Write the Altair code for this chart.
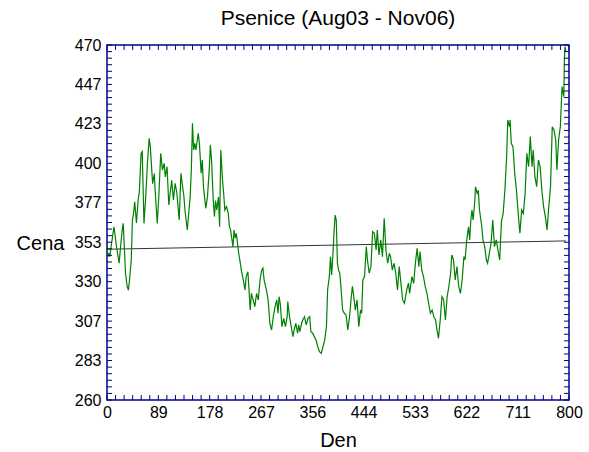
import altair as alt
import numpy as np
import pandas as pd

days = [0, 2, 4, 5, 6, 12, 14, 16, 21, 24, 27, 28, 30, 32, 35, 37, 39, 42, 44, 46, 48, 51, 54, 56, 59, 61,
        64, 67, 70, 73, 75, 79, 82, 83, 87, 90, 93, 96, 99, 101, 104, 107, 110, 112, 115, 118, 121, 125,
        128, 131, 133, 135, 137, 139, 144, 146, 148, 150, 152, 154, 158, 160, 163, 165, 167, 171, 174,
        177, 179, 181, 184, 186, 188, 190, 193, 195, 197, 200, 202, 204, 207, 210, 212, 214, 218, 220,
        222, 224, 228, 230, 233, 236, 239, 241, 244, 248, 250, 253, 256, 259, 262, 265, 268, 270, 272,
        276, 279, 282, 285, 288, 291, 294, 296, 298, 300, 303, 306, 309, 312, 313, 316, 319, 322, 324,
        327, 330, 332, 334, 337, 339, 342, 345, 348, 351, 353, 356, 359, 362, 365, 368, 371, 374, 377,
        380, 382, 385, 387, 389, 391, 393, 395, 397, 399, 401, 403, 405, 408, 411, 414, 417, 420, 423,
        425, 428, 430, 433, 436, 439, 441, 443, 446, 449, 451, 454, 457, 460, 463, 466, 468, 471, 474,
        477, 480, 483, 486, 489, 491, 494, 497, 500, 503, 506, 509, 512, 515, 519, 522, 524, 528, 531,
        534, 537, 540, 542, 545, 548, 551, 554, 557, 560, 563, 566, 569, 571, 574, 577, 580, 583, 586,
        589, 592, 595, 597, 600, 603, 606, 609, 612, 615, 618, 620, 623, 626, 628, 630, 632, 634, 637,
        638, 641, 643, 645, 649, 651, 654, 657, 659, 662, 665, 668, 671, 674, 677, 680, 683, 686, 689,
        692, 694, 697, 698, 700, 703, 706, 709, 712, 715, 718, 721, 724, 727, 730, 733, 736, 738, 741,
        744, 747, 750, 753, 756, 759, 762, 765, 768, 771, 774, 777, 779, 782, 785, 788, 791, 792, 793,
        795]

prices = [350.7, 344.8, 346.8, 344.8, 348.0, 362.5, 357.6, 351.7, 340.9, 352.7, 362.5, 364.5, 350.7,
          335.0, 327.0, 325.0, 331.0, 342.8, 366.5, 370.4, 377.3, 364.7, 378.3, 383.2, 405.9, 407.0,
          364.5, 380.0, 400.0, 414.8, 409.9, 388.0, 394.0, 386.2, 364.5, 382.3, 405.9, 396.0, 400.0,
          392.0, 398.0, 375.4, 384.2, 390.0, 378.3, 388.2, 382.3, 366.5, 394.1, 386.0, 381.0, 372.4,
          366.5, 360.6, 380.3, 396.0, 423.7, 407.9, 411.8, 407.9, 417.8, 411.8, 394.1, 402.0, 386.2,
          373.4, 380.3, 396.0, 410.9, 402.0, 378.3, 368.5, 378.0, 372.4, 380.0, 362.5, 407.9, 390.1,
          382.3, 372.4, 374.4, 370.4, 362.5, 360.6, 350.7, 360.6, 355.7, 358.6, 346.8, 342.8, 335.9,
          331.0, 325.1, 333.0, 335.9, 313.2, 323.1, 319.2, 315.2, 323.1, 319.2, 331.0, 336.9, 338.0,
          331.0, 325.1, 319.2, 305.4, 301.4, 309.3, 315.2, 319.2, 311.3, 321.1, 317.0, 303.4, 308.3,
          303.4, 309.3, 318.2, 309.3, 303.4, 297.5, 301.4, 305.4, 299.5, 304.4, 300.5, 305.4, 307.3,
          309.3, 304.4, 308.3, 309.3, 300.5, 299.5, 297.5, 295.5, 291.5, 288.6, 287.6, 291.5, 295.5,
          303.4, 325.1, 333.0, 344.8, 334.0, 344.8, 358.6, 369.4, 366.5, 340.9, 337.0, 335.0, 327.2,
          313.2, 311.3, 310.3, 301.4, 309.3, 321.1, 327.2, 319.2, 313.2, 319.2, 303.4, 313.2, 311.3,
          331.0, 333.0, 350.7, 342.8, 335.0, 338.9, 359.6, 358.6, 348.7, 360.6, 345.8, 354.7, 344.8,
          367.5, 348.7, 340.9, 346.8, 344.8, 336.9, 340.9, 335.0, 325.1, 338.9, 329.0, 319.2, 317.2,
          325.1, 329.1, 323.1, 333.0, 329.0, 340.9, 349.7, 338.9, 347.8, 336.9, 333.0, 327.2, 323.1,
          317.2, 311.3, 313.2, 309.3, 307.3, 302.4, 296.5, 307.3, 321.1, 319.2, 307.3, 321.1, 327.2,
          335.0, 345.8, 343.0, 331.0, 339.0, 327.2, 323.1, 331.0, 344.8, 343.0, 354.7, 362.5, 354.7,
          366.5, 372.4, 366.5, 378.3, 386.2, 382.3, 384.0, 372.4, 362.5, 354.7, 350.7, 342.8, 340.9,
          346.8, 352.7, 366.5, 350.7, 354.7, 348.7, 342.8, 365.5, 370.4, 384.2, 403.9, 425.6, 421.7,
          425.6, 411.8, 409.9, 394.1, 384.2, 370.4, 358.6, 372.4, 370.4, 382.3, 405.9, 398.0, 415.8,
          398.0, 407.9, 392.1, 386.2, 402.0, 398.0, 384.2, 374.4, 368.5, 360.6, 374.4, 386.2, 421.7,
          419.7, 413.8, 396.0, 413.8, 421.7, 445.4, 439.4, 461.1, 469.0, 466.0]

trend_days = [0, 795]
trend_values = [349.2, 354.1]

x_label_values = [0, 800 / 9, 1600 / 9, 800 / 3, 3200 / 9, 4000 / 9, 1600 / 3, 5600 / 9, 6400 / 9, 800]
y_label_values = [260, 283.333, 306.667, 330, 353.333, 376.667, 400, 423.333, 446.667, 470]

W, H = 462, 355
TICK = 5
NAVY = "#00008b"

df = pd.DataFrame({"Den": days, "Cena": prices})
trend_df = pd.DataFrame({"Den": trend_days, "Cena": trend_values})
xt = pd.DataFrame({"Den": np.linspace(0, 800, 55)})
yt = pd.DataFrame({"Cena": np.linspace(260, 470, 55)})

xscale = alt.Scale(domain=[0, 800], nice=False, zero=False)
yscale = alt.Scale(domain=[260, 470], nice=False, zero=False)

x_axis = alt.Axis(values=x_label_values, format=".0f", ticks=False, domain=False, grid=False,
                  labelFontSize=16, labelPadding=4, labelColor="black", labelFlush=False,
                  labelOverlap=False,
                  title="Den", titleFontSize=20, titleFontWeight="normal",
                  titleY=40, titleBaseline="middle", titleColor="black")
y_axis = alt.Axis(values=y_label_values, format=".0f", ticks=False, domain=False, grid=False,
                  labelFontSize=16, labelPadding=6, labelColor="black", labelFlush=False,
                  labelOverlap=False,
                  title="Cena", titleFontSize=20, titleFontWeight="normal",
                  titleAngle=0, titleX=-67, titleY=198, titleAlign="center",
                  titleBaseline="middle", titleColor="black")

X = alt.X("Den:Q", scale=xscale, axis=x_axis)
Y = alt.Y("Cena:Q", scale=yscale, axis=y_axis)

line = alt.Chart(df).mark_line(color="#008000", strokeWidth=1.2).encode(x=X, y=Y)
trend = alt.Chart(trend_df).mark_line(color="#333333", strokeWidth=1).encode(x=X, y=Y)

bottom = alt.Chart(xt).mark_rule(color=NAVY, strokeWidth=1).encode(
    x=X, y=alt.value(H), y2=alt.value(H - TICK))
top = alt.Chart(xt).mark_rule(color=NAVY, strokeWidth=1).encode(
    x=X, y=alt.value(0), y2=alt.value(TICK))
left = alt.Chart(yt).mark_rule(color=NAVY, strokeWidth=1).encode(
    y=Y, x=alt.value(0), x2=alt.value(TICK))
right = alt.Chart(yt).mark_rule(color=NAVY, strokeWidth=1).encode(
    y=Y, x=alt.value(W), x2=alt.value(W - TICK))

chart = alt.layer(trend, line, bottom, top, left, right).properties(
    width=W, height=H,
    title=alt.TitleParams("Psenice (Aug03 - Nov06)", fontSize=21, fontWeight="normal",
                          color="black", anchor="middle", offset=8),
    autosize=alt.AutoSizeParams(type="none"),
    padding={"left": 107, "top": 45, "right": 20, "bottom": 52},
).configure(font="Liberation Sans").configure_view(stroke=NAVY, strokeWidth=1.5)

chart.save("out.html", embed_options={"renderer": "svg", "actions": False})
